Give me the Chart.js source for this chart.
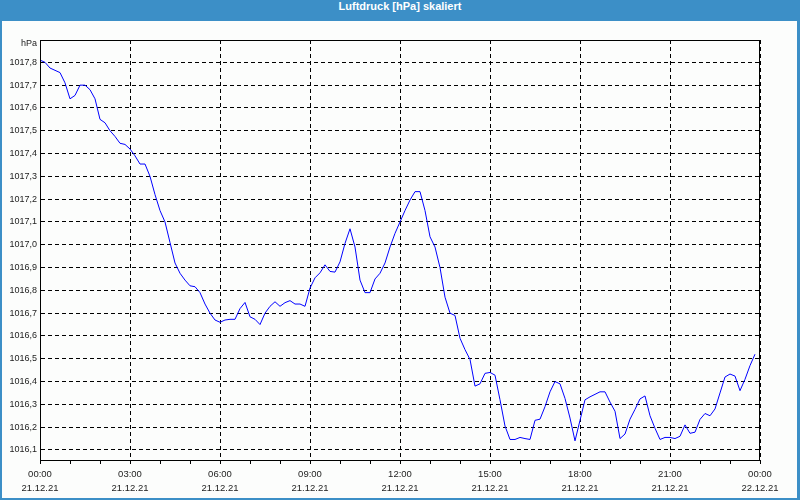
<!DOCTYPE html>
<html>
<head>
<meta charset="utf-8">
<script src="https://cdn.jsdelivr.net/npm/chart.js@4/dist/chart.umd.min.js"></script>
<style>
body{margin:0;}
#frame{position:relative;width:800px;height:500px;background:#3c8fc7;overflow:hidden;}
#head{position:absolute;left:0;top:0;width:800px;height:21px;line-height:20px;text-align:center;color:#fff;font:bold 11px "Liberation Sans",Arial,sans-serif;}
#panel{position:absolute;left:2px;top:21px;width:795px;height:477px;background:#fcfdfc;}
#wrap{position:absolute;left:0;top:0;width:800px;height:500px;}
</style>
</head>
<body>
<div id="frame">
	<div id="head">Luftdruck [hPa] skaliert</div>
	<div id="panel"></div>
	<div id="wrap"><canvas id="chart" width="800" height="500"></canvas></div>
</div>
<script>
// Luftdruck 21.12.21, alle 10 Minuten (Minuten seit 00:00)
const minutes=[];
for(let i=0;i<144;i++){minutes.push(i*10);}

const pressure=[
	1017.81,1017.80,1017.775,1017.765,1017.755,1017.71,1017.64,1017.655,1017.70,1017.70,
	1017.68,1017.64,1017.55,1017.535,1017.50,1017.475,1017.445,1017.44,1017.42,1017.39,
	1017.354,1017.354,1017.30,1017.22,1017.15,1017.10,1017.01,1016.92,1016.875,1016.845,
	1016.82,1016.816,1016.79,1016.74,1016.70,1016.67,1016.66,1016.67,1016.673,1016.673,
	1016.72,1016.747,1016.684,1016.673,1016.65,1016.70,1016.73,1016.75,1016.73,1016.746,
	1016.755,1016.74,1016.74,1016.73,1016.81,1016.855,1016.877,1016.912,1016.883,1016.88,
	1016.925,1017.006,1017.07,1016.99,1016.845,1016.79,1016.79,1016.85,1016.875,1016.92,
	1016.99,1017.05,1017.10,1017.15,1017.196,1017.233,1017.233,1017.15,1017.035,1016.99,
	1016.90,1016.77,1016.70,1016.69,1016.59,1016.54,1016.497,1016.38,1016.39,1016.436,
	1016.44,1016.428,1016.32,1016.205,1016.146,1016.146,1016.155,1016.15,1016.146,1016.23,
	1016.235,1016.29,1016.355,1016.40,1016.39,1016.326,1016.24,1016.14,1016.23,1016.32,
	1016.333,1016.344,1016.355,1016.355,1016.31,1016.27,1016.15,1016.17,1016.235,1016.278,
	1016.324,1016.337,1016.25,1016.195,1016.146,1016.155,1016.155,1016.15,1016.16,1016.21,
	1016.173,1016.178,1016.234,1016.26,1016.25,1016.28,1016.35,1016.42,1016.433,1016.424,
	1016.36,1016.41,1016.47,1016.52
];

const timeLabels=['00:00','03:00','06:00','09:00','12:00','15:00','18:00','21:00','00:00'];
const dateLabels=['21.12.21','21.12.21','21.12.21','21.12.21','21.12.21','21.12.21','21.12.21','21.12.21','22.12.21'];

const yMin=1016.056, yMax=1017.898;
const fam='"Liberation Sans", Arial, sans-serif';

// rahmen + einheit
const boxPlugin={
	id:'box',
	afterDraw(chart){
		const c=chart.ctx, a=chart.chartArea;
		c.save();
		c.strokeStyle='#000';
		c.lineWidth=1;
		c.strokeRect(a.left+0.5,a.top+0.5,a.right-a.left-1,a.bottom-a.top);
		c.fillStyle='#222';
		c.font='9px '+fam;
		c.textAlign='right';
		c.textBaseline='middle';
		c.fillText('hPa',a.left-3,a.top+4);
		c.restore();
	}
};

const ctx=document.getElementById('chart').getContext('2d');
new Chart(ctx,{
	type:'line',
	data:{
		labels:minutes,
		datasets:[{
			data:minutes.map((m,i)=>({x:m,y:pressure[i]})),
			borderColor:'#0000ff',
			borderWidth:1,
			pointRadius:0,
			tension:0,
			fill:false
		}]
	},
	options:{
		animation:false,
		responsive:false,
		plugins:{legend:{display:false},tooltip:{enabled:false}},
		layout:{padding:{top:40,right:40,left:0,bottom:0}},
		scales:{
			x:{
				type:'linear',
				min:0,max:1440,
				afterFit(s){s.height=40;},
				ticks:{
					stepSize:60,
					autoSkip:false,
					maxRotation:0,
					padding:3,
					color:'#222',
					font:{family:fam,size:9.5,lineHeight:1.5},
					callback(v){
						if(v%180!==0) return '';
						const k=v/180;
						return [timeLabels[k],dateLabels[k]];
					}
				},
				grid:{
					color(c){return (c.tick && c.tick.value%180===0)?'#000':'rgba(0,0,0,0)';},
					tickColor:'#000',
					tickLength:4,
					lineWidth:1
				},
				border:{display:true,color:'#000',dash:[4,3]}
			},
			y:{
				min:yMin,max:yMax,
				afterFit(s){s.width=40;},
				ticks:{
					stepSize:0.1,
					includeBounds:false,
					padding:3,
					color:'#222',
					font:{family:fam,size:9},
					callback(v){return v.toFixed(1).replace('.',',');}
				},
				grid:{color:'#000',drawTicks:false,lineWidth:1},
				border:{display:true,color:'#000',dash:[4,3]}
			}
		}
	},
	plugins:[boxPlugin]
});
</script>
</body>
</html>
